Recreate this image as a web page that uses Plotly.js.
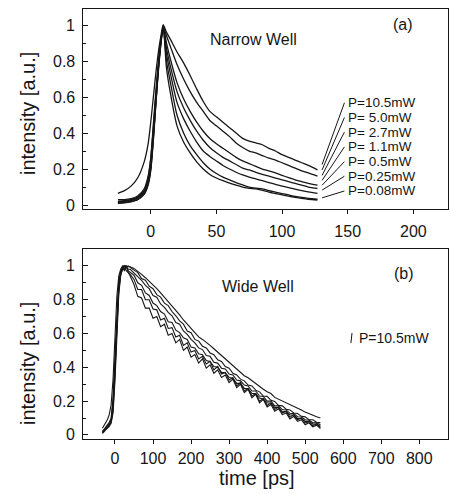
<!DOCTYPE html>
<html><head><meta charset="utf-8">
<script src="https://cdn.plot.ly/plotly-3.0.1.min.js"></script>
<style>html,body{margin:0;padding:0;background:#fff}#chart{width:450px;height:494px}</style>
</head><body><div id="chart"></div>
<script>
// ---------- Panel (a): Narrow Well ----------
const timeNarrow = [-25,-20,-15,-10,-5,-2,0,2,4,6,8,9.5,12,15,20,25,30,35,40,45,50,55,60,65,70,75,80,85,90,95,100,105,110,115,120,127];
const narrowTicks = [0,50,100,150,200];
const narrowLabels = ['P=10.5mW','P= 5.0mW','P= 2.7mW','P= 1.1mW','P= 0.5mW','P=0.25mW','P=0.08mW'];
const narrowP10_5 = [0.065,0.08,0.105,0.15,0.24,0.34,0.46,0.6,0.74,0.86,0.95,1.0,0.96,0.92,0.85,0.79,0.72,0.645,0.575,0.52,0.49,0.46,0.43,0.4,0.37,0.355,0.345,0.335,0.315,0.3,0.28,0.265,0.25,0.235,0.22,0.195];
const narrowP5_0  = [0.02,0.025,0.03,0.045,0.08,0.15,0.26,0.45,0.64,0.8,0.93,0.99,0.94,0.88,0.78,0.7,0.63,0.57,0.52,0.47,0.44,0.41,0.38,0.345,0.32,0.3,0.29,0.275,0.26,0.25,0.235,0.22,0.205,0.19,0.178,0.16];
const narrowP2_7  = [0.015,0.02,0.025,0.04,0.07,0.13,0.22,0.4,0.6,0.78,0.92,0.99,0.9,0.81,0.68,0.59,0.52,0.46,0.41,0.37,0.34,0.315,0.29,0.265,0.245,0.23,0.215,0.2,0.19,0.178,0.165,0.152,0.14,0.13,0.12,0.11];
const narrowP1_1  = [0.01,0.015,0.02,0.03,0.06,0.11,0.19,0.36,0.57,0.76,0.91,0.99,0.87,0.77,0.63,0.54,0.47,0.41,0.36,0.32,0.29,0.265,0.245,0.225,0.205,0.195,0.182,0.17,0.16,0.15,0.14,0.13,0.12,0.11,0.1,0.092];
const narrowP0_5  = [0.02,0.022,0.028,0.04,0.07,0.12,0.2,0.37,0.58,0.77,0.92,1.0,0.84,0.73,0.57,0.48,0.41,0.35,0.3,0.27,0.245,0.22,0.2,0.182,0.167,0.155,0.145,0.135,0.125,0.115,0.105,0.097,0.088,0.08,0.073,0.065];
const narrowP0_25 = [0.03,0.03,0.035,0.05,0.09,0.16,0.26,0.43,0.62,0.8,0.93,0.99,0.8,0.68,0.5,0.4,0.33,0.28,0.235,0.2,0.175,0.155,0.14,0.125,0.112,0.1,0.094,0.09,0.08,0.072,0.064,0.056,0.048,0.042,0.037,0.033];
const narrowP0_08 = [0.01,0.012,0.018,0.03,0.06,0.12,0.21,0.38,0.58,0.78,0.92,0.99,0.76,0.62,0.44,0.35,0.29,0.24,0.2,0.17,0.15,0.135,0.122,0.11,0.1,0.093,0.09,0.082,0.072,0.064,0.056,0.049,0.043,0.037,0.032,0.028];

// ---------- Panel (b): Wide Well ----------
const timeWide = [-33,-30,-25,-20,-15,-10,-5,0,5,10,15,20,25,30,35,40,50,60,70,80,90,100,110,120,130,140,150,160,170,180,190,200,210,220,230,240,250,260,270,280,290,300,310,320,330,340,350,360,370,380,390,400,410,420,430,440,450,460,470,480,490,500,510,520,530,540];
const wideTicks = [0,100,200,300,400,500,600,700,800];
const intensityTicks = [0,0.2,0.4,0.6,0.8,1];
const intensityTickText = ['0','0.2','0.4','0.6','0.8','1'];
const wideLabel = 'P=10.5mW';
const wide1 = [0.04,0.05,0.07,0.09,0.12,0.18,0.33,0.58,0.82,0.94,0.98,1.0,1.0,1.0,0.995,0.995,
  0.985,0.97,0.95,0.93,0.91,
  0.885,0.865,0.84,0.815,0.79,0.765,0.735,0.71,0.68,0.655,
  0.625,0.6,0.58,0.565,0.55,0.53,0.51,0.49,0.47,0.45,
  0.43,0.41,0.39,0.375,0.35,0.338,0.32,0.302,0.285,0.27,
  0.255,0.245,0.222,0.212,0.2,0.19,0.18,0.172,0.158,0.148,
  0.135,0.125,0.115,0.107,0.1];
const wide2 = [0.02,0.03,0.045,0.06,0.075,0.1,0.22,0.46,0.74,0.91,0.97,0.99,1.0,0.99,1.0,0.99,
  0.975,0.96,0.925,0.915,0.88,
  0.865,0.83,0.815,0.78,0.765,0.73,0.705,0.675,0.655,0.615,
  0.605,0.565,0.555,0.525,0.515,0.485,0.475,0.445,0.435,0.405,
  0.395,0.365,0.355,0.33,0.32,0.295,0.29,0.265,0.255,0.23,
  0.228,0.205,0.198,0.175,0.172,0.152,0.148,0.13,0.127,0.11,
  0.107,0.09,0.09,0.075,0.073];
const wide3 = [0.02,0.025,0.04,0.05,0.065,0.09,0.2,0.42,0.7,0.89,0.96,0.99,1.0,0.99,0.98,0.98,
  0.96,0.935,0.915,0.885,0.865,
  0.825,0.815,0.775,0.755,0.725,0.705,0.665,0.655,0.615,0.595,
  0.565,0.545,0.515,0.505,0.47,0.465,0.43,0.425,0.395,0.39,
  0.36,0.355,0.325,0.32,0.295,0.29,0.26,0.26,0.23,0.228,
  0.2,0.2,0.172,0.172,0.15,0.148,0.128,0.126,0.108,0.106,
  0.09,0.088,0.072,0.072,0.06];
const wide4 = [0.015,0.02,0.035,0.045,0.06,0.08,0.17,0.38,0.66,0.87,0.95,0.99,0.98,1.0,0.97,0.96,
  0.945,0.9,0.885,0.84,0.825,
  0.78,0.765,0.73,0.715,0.67,0.665,0.62,0.605,0.575,0.565,
  0.52,0.515,0.48,0.475,0.44,0.435,0.405,0.4,0.37,0.368,
  0.34,0.335,0.305,0.305,0.275,0.275,0.245,0.245,0.218,0.212,
  0.19,0.188,0.162,0.162,0.14,0.138,0.118,0.118,0.098,0.097,
  0.08,0.08,0.065,0.064,0.052];
const wide5 = [0.01,0.02,0.03,0.04,0.055,0.075,0.15,0.35,0.63,0.85,0.95,0.98,1.0,0.97,0.96,0.95,
  0.92,0.86,0.86,0.8,0.8,
  0.745,0.74,0.68,0.69,0.63,0.635,0.58,0.59,0.53,0.545,
  0.49,0.5,0.45,0.465,0.42,0.435,0.385,0.405,0.36,0.37,
  0.325,0.34,0.29,0.31,0.26,0.275,0.23,0.245,0.2,0.215,
  0.175,0.19,0.15,0.165,0.13,0.14,0.105,0.12,0.09,0.1,
  0.07,0.08,0.055,0.066,0.045];
const wide6 = [0.01,0.015,0.03,0.04,0.05,0.07,0.13,0.32,0.6,0.83,0.94,0.99,0.97,1.0,0.96,0.94,
  0.89,0.82,0.81,0.75,0.75,
  0.69,0.7,0.64,0.655,0.59,0.6,0.545,0.565,0.5,0.52,
  0.46,0.475,0.425,0.45,0.395,0.415,0.365,0.385,0.34,0.355,
  0.31,0.33,0.28,0.3,0.25,0.27,0.22,0.24,0.19,0.21,
  0.165,0.18,0.14,0.155,0.12,0.13,0.095,0.11,0.08,0.09,
  0.06,0.072,0.048,0.058,0.038];

// ---------- styling / layout ----------
const FONT = 'Liberation Sans, Arial, Helvetica, sans-serif';
const INK = '#161616';
const narrowSeries = [narrowP10_5, narrowP5_0, narrowP2_7, narrowP1_1, narrowP0_5, narrowP0_25, narrowP0_08];
const wideSeries = [wide1, wide2, wide3, wide4, wide5, wide6];

const traces = [];
narrowSeries.forEach((s, i) => traces.push({
  x: timeNarrow, y: s, xaxis: 'x', yaxis: 'y', mode: 'lines', name: narrowLabels[i],
  line: {color: INK, width: 1.3, shape: 'spline', smoothing: 0.7}, hoverinfo: 'skip', showlegend: false
}));
wideSeries.forEach(s => traces.push({
  x: timeWide, y: s, xaxis: 'x2', yaxis: 'y2', mode: 'lines',
  line: {color: INK, width: 1.1}, hoverinfo: 'skip', showlegend: false
}));

// label placement (layout only)
const labelX = 149.5, leaderX0 = 130.5, leaderX1 = 147.5;
const labelY = [0.568, 0.486, 0.405, 0.323, 0.241, 0.16, 0.078];
const leaderY0 = [0.225, 0.195, 0.165, 0.137, 0.11, 0.083, 0.04];
const yTickLabelX = -0.018;

const shapes = labelY.map((ly, i) => ({
  type: 'line', xref: 'x', yref: 'y', x0: leaderX0, y0: leaderY0[i], x1: leaderX1, y1: ly,
  line: {color: INK, width: 1}
}));
shapes.push({type: 'line', xref: 'paper', yref: 'paper', x0: 0.734, y0: 0.223, x1: 0.737, y1: 0.2465,
  line: {color: INK, width: 1}});

const annotations = narrowLabels.map((t, i) => ({
  xref: 'x', yref: 'y', x: labelX, y: labelY[i], text: t, showarrow: false,
  xanchor: 'left', yanchor: 'middle', borderpad: 0, font: {family: FONT, size: 13.5, color: INK}
}));
// y tick labels placed on the axes' own scales
['y', 'y2'].forEach(ax => intensityTicks.forEach((v, i) => annotations.push({
  xref: 'paper', yref: ax, x: yTickLabelX, y: v, text: intensityTickText[i], showarrow: false,
  xanchor: 'right', yanchor: 'middle', borderpad: 0, font: {family: FONT, size: 16, color: INK}
})));
const txt = (text, x, y, size, extra) => Object.assign({
  xref: 'paper', yref: 'paper', x, y, text, showarrow: false,
  xanchor: 'center', yanchor: 'middle', font: {family: FONT, size, color: INK}
}, extra || {});
annotations.push(txt('Narrow Well', 0.4658, 0.928, 16));
annotations.push(txt('(a)', 0.8767, 0.9628, 16));
annotations.push(txt('Wide Well', 0.4795, 0.3535, 16));
annotations.push(txt('(b)', 0.8795, 0.386, 16));
annotations.push(txt(wideLabel, 0.7507, 0.2349, 14, {xanchor: 'left'}));
annotations.push(txt('intensity [a.u.]', -0.1507, 0.758, 20, {textangle: -90}));
annotations.push(txt('intensity [a.u.]', -0.1507, 0.1767, 20, {textangle: -90}));
annotations.push(txt('time [ps]', 0.4767, -0.0907, 20));

const axisCommon = {
  showline: true, mirror: true, linecolor: INK, linewidth: 1.3,
  showgrid: false, zeroline: false, tickcolor: INK,
  tickfont: {family: FONT, size: 16, color: INK}
};
const xAxisTicks = {ticks: 'outside', ticklen: 4};
const yAxisTicks = {ticks: 'inside', ticklen: 5, showticklabels: false,
  minor: {tickmode: 'linear', tick0: 0, dtick: 0.1, ticks: 'inside', ticklen: 3, tickcolor: INK}};

const layout = {
  width: 450, height: 494,
  margin: {l: 83, r: 2, t: 9, b: 55},
  paper_bgcolor: '#fff', plot_bgcolor: '#fff',
  showlegend: false,
  xaxis: Object.assign({}, axisCommon, xAxisTicks, {anchor: 'y', range: [-51.6, 226.4], tickmode: 'array', tickvals: narrowTicks, ticklabelstandoff: 4}),
  yaxis: Object.assign({}, axisCommon, yAxisTicks, {domain: [0.5349, 1], anchor: 'x', range: [-0.022, 1.089], tickmode: 'array', tickvals: intensityTicks}),
  xaxis2: Object.assign({}, axisCommon, xAxisTicks, {anchor: 'y2', range: [-84, 875.4], tickmode: 'array', tickvals: wideTicks, ticklabelstandoff: 0}),
  yaxis2: Object.assign({}, axisCommon, yAxisTicks, {domain: [0, 0.4419], anchor: 'x2', range: [-0.024, 1.1], tickmode: 'array', tickvals: intensityTicks}),
  shapes, annotations
};

Plotly.newPlot('chart', traces, layout, {staticPlot: true, displayModeBar: false});
</script>
</body></html>
